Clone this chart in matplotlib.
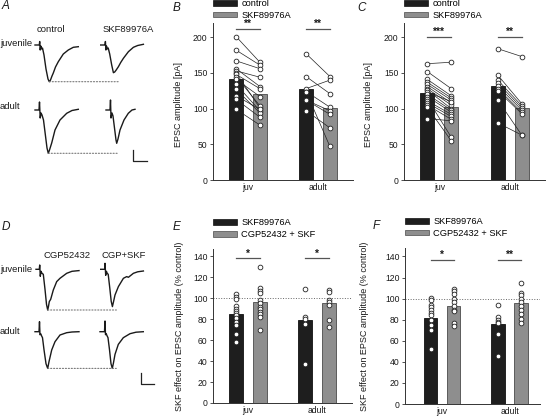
import matplotlib
matplotlib.use('Agg')
import matplotlib.pyplot as plt
from matplotlib.patches import Patch, ConnectionPatch
from matplotlib.lines import Line2D

plt.rcParams['font.family'] = ['Liberation Sans', 'DejaVu Sans']
FS = 6.2

# ---------------- data ----------------
groups = ['juv', 'adult']

# Panel B (EPSC amplitude, pA), paired cells
b_bar_ctrl = [142, 127]
b_bar_skf = [120, 101]
b_juv_ctrl = [201, 182, 167, 156, 153, 150, 148, 145, 141, 134, 127, 118, 113, 99]
b_juv_skf = [165, 161, 156, 131, 144, 101, 128, 104, 117, 97, 94, 99, 88, 77]
b_adult_ctrl = [177, 145, 128, 124, 124, 112, 112, 97]
b_adult_skf = [145, 121, 140, 102, 47, 97, 92, 73]
b_sig = ['**', '**']

# Panel C
c_bar_ctrl = [122, 132]
c_bar_skf = [102, 101]
c_juv_ctrl = [163, 152, 141, 137, 134, 131, 128, 126, 123, 120, 117, 114, 111, 108, 105, 102, 86]
c_juv_skf = [165, 128, 118, 115, 112, 108, 105, 100, 110, 98, 95, 60, 92, 89, 85, 55, 83]
c_adult_ctrl = [184, 147, 140, 136, 132, 128, 125, 112, 80]
c_adult_skf = [173, 107, 104, 101, 98, 95, 93, 63, 63]
c_sig = ['***', '**']

# Panel E (% control)
e_bar_skf = [85, 79]
e_bar_cgp = [96, 95]
e_juv_skf = [104, 101, 99, 93, 90, 88, 86, 84, 81, 77, 74, 66, 58]
e_juv_cgp = [130, 110, 107, 105, 98, 95, 92, 90, 87, 85, 82, 70]
e_adult_skf = [109, 82, 80, 75, 37]
e_adult_cgp = [108, 106, 98, 96, 94, 79, 73]
e_sig = ['*', '*']

# Panel F
f_bar_skf = [82, 76]
f_bar_cgp = [93, 96]
f_juv_skf = [101, 99, 94, 92, 89, 86, 84, 80, 75, 70, 52]
f_juv_cgp = [109, 107, 104, 100, 97, 93, 89, 88, 77, 74]
f_adult_skf = [94, 83, 80, 78, 77, 66, 46]
f_adult_cgp = [115, 105, 103, 100, 97, 93, 89, 85, 81, 77]
f_sig = ['*', '**']

# Example traces (time, current; arbitrary units)
tr_a_juv_ctrl_t = [0, 4.3, 4.7, 5.2, 5.8, 6.5, 7.5, 9, 11, 13, 14.3, 15.5, 17, 18.3, 20.5, 23.3, 28.3, 33.3, 38.3, 43.3]
tr_a_juv_ctrl_i = [0, 0, 3.5, -5, -1, -4, -3, -10, -24, -34, -36.7, -35, -31, -28, -22, -16.7, -9, -5, -2.3, -1.7]
tr_a_juv_skf_t = [0, 4.3, 4.7, 5.2, 5.8, 6.5, 7.5, 9, 11, 12.7, 14, 15.5, 17.7, 20, 22.7, 27.7, 32.7, 37, 42.7]
tr_a_juv_skf_i = [0, 0, 3.5, -5, -1, -4, -3, -9, -20, -27.7, -27, -25, -21.7, -17.5, -13.3, -6.7, -2.3, -0.5, 0.7]
tr_a_ad_ctrl_t = [0, 4, 4.5, 5.2, 6, 7, 8.5, 10, 12, 13.3, 14.5, 16.7, 20, 25, 31.7, 37, 43.3]
tr_a_ad_ctrl_i = [0, 0, 8, -8, -3, -5, -10, -22, -38, -43.3, -40, -33, -20, -10, -3.3, -0.5, 0.7]
tr_a_ad_skf_t = [0, 4, 4.5, 5, 6, 7, 8.5, 10, 10.7, 12, 14, 18, 22.3, 26, 29]
tr_a_ad_skf_i = [0, 0, 10, -8, -3, -6, -18, -30, -33.3, -29, -20, -10, -3.3, 0, 0.7]

tr_d_juv_cgp_t = [0, 3.3, 3.7, 4.3, 5, 6, 7.3, 9, 10.5, 11.7, 12.5, 13.3, 14.7, 17.3, 20.7, 24, 30.7, 36, 43]
tr_d_juv_cgp_i = [0, 0, 4.3, -7, -2, -4, -5, -20, -35, -40.7, -37, -32.3, -30, -20.7, -12.3, -9, -4, -2, -1.3]
tr_d_juv_cs_t = [0, 4, 4.3, 5, 5.7, 6.5, 7.5, 9, 10.5, 11.7, 12.7, 14.3, 17.7, 22.7, 26, 27.7, 32.7, 37, 42.7]
tr_d_juv_cs_i = [0, 0, 6, -6, -2, -4, -5, -18, -32, -37.3, -33, -25.7, -17.3, -9, -7.3, -8, -4, -2.5, -1.7]
tr_d_ad_cgp_t = [0, 4, 4.5, 5, 5.7, 6.5, 7.5, 9, 11, 12.7, 14, 16.7, 20, 25, 31.7, 37, 44]
tr_d_ad_cgp_i = [0, 0, 10, -3, -2, -4, -6, -18, -32, -36.7, -30, -18.3, -10, -3.3, -1, -0.3, 0]
tr_d_ad_cs_t = [0, 4.5, 5, 5.5, 6.2, 7, 8, 9.5, 11, 12.3, 13.5, 15, 18.3, 23.3, 30, 36, 43.3]
tr_d_ad_cs_i = [0, 0, 10.7, -3, -2, -4, -6, -18, -32, -36.7, -31, -22.7, -12.7, -6, -2, -0.5, 0]

# ---------------- figure ----------------
W, H = 546, 417
fig = plt.figure(figsize=(5.46, 4.17), dpi=100)

BLACK = '#1e1e1e'
GREY = '#8e8e8e'
TXT = '#1a1a1a'


def px_axes(l, t, r, b):
    return fig.add_axes([l / W, 1 - b / H, (r - l) / W, (b - t) / H])


def fig_text(x, y, s, **kw):
    fig.text(x / W, 1 - y / H, s, fontsize=kw.pop('fontsize', FS + 0.6), color=TXT, **kw)


def fig_line(xs, ys, **kw):
    fig.add_artist(Line2D([x / W for x in xs], [1 - y / H for y in ys], transform=fig.transFigure, **kw))


def style_axes(ax, ymax, yticks):
    ax.set_xlim(0, 4)
    ax.set_ylim(0, ymax)
    ax.set_yticks(yticks)
    ax.set_xticks([1, 3])
    ax.set_xticklabels(groups)
    for s in ['top', 'right']:
        ax.spines[s].set_visible(False)
    for s in ['left', 'bottom']:
        ax.spines[s].set_linewidth(0.7)
        ax.spines[s].set_color('#333333')
    ax.tick_params(axis='y', length=2.5, width=0.6, pad=1.5, labelsize=FS, colors='#333333', labelcolor=TXT)
    ax.tick_params(axis='x', length=0, pad=2.5, labelsize=FS, labelcolor=TXT)


def bars(ax, v1, v2, off=0.34, w=0.4):
    xs = [1, 3]
    ax.bar([x - off for x in xs], v1, width=w, color=BLACK, edgecolor='#111111', linewidth=0.6, zorder=1)
    ax.bar([x + off for x in xs], v2, width=w, color=GREY, edgecolor='#4a4a4a', linewidth=0.6, zorder=1)


def paired(ax, xc, c, s, off=0.34):
    for a, b in zip(c, s):
        ax.plot([xc - off, xc + off], [a, b], color='#222222', lw=0.5, zorder=2)
    ax.plot([xc - off] * len(c), c, 'o', ms=3.4, mfc='white', mec='#222222', mew=0.6, zorder=3)
    ax.plot([xc + off] * len(s), s, 'o', ms=3.4, mfc='white', mec='#222222', mew=0.6, zorder=3)


def scatter(ax, xc, vals):
    ax.plot([xc] * len(vals), vals, 'o', ms=3.4, mfc='white', mec='#222222', mew=0.6, zorder=3)


def sig(ax, ylev, marks, off=0.34, dy=0.0):
    for xc, m in zip([1, 3], marks):
        ax.plot([xc - off, xc + off], [ylev, ylev], color='#555555', lw=0.9, clip_on=False)
        ax.text(xc, ylev + dy, m, ha='center', va='bottom', fontsize=FS + 1.2,
                fontweight='bold', color=TXT)


def legend(ax, labels, y):
    handles = [Patch(facecolor=BLACK, edgecolor='#111111', lw=0.5),
               Patch(facecolor=GREY, edgecolor='#4a4a4a', lw=0.5)]
    ax.legend(handles, labels, loc='lower left', bbox_to_anchor=(0.0, y), frameon=False,
              fontsize=FS + 0.5, handlelength=2.6, handleheight=0.55, handletextpad=0.45,
              labelspacing=0.3, borderpad=0, borderaxespad=0)


# Panel B
axB = px_axes(213, 23, 353, 180)
style_axes(axB, 220, [0, 50, 100, 150, 200])
bars(axB, b_bar_ctrl, b_bar_skf)
paired(axB, 1, b_juv_ctrl, b_juv_skf)
paired(axB, 3, b_adult_ctrl, b_adult_skf)
sig(axB, 212, b_sig)
axB.set_ylabel('EPSC amplitude [pA]', fontsize=FS + 0.3, color=TXT)
axB.yaxis.set_label_coords(-0.215, 0.48)
legend(axB, ['control', 'SKF89976A'], 1.02)

# Panel C
axC = px_axes(404, 23, 545, 180)
style_axes(axC, 220, [0, 50, 100, 150, 200])
bars(axC, c_bar_ctrl, c_bar_skf)
paired(axC, 1, c_juv_ctrl, c_juv_skf)
paired(axC, 3, c_adult_ctrl, c_adult_skf)
sig(axC, 200, c_sig)
axC.set_ylabel('EPSC amplitude [pA]', fontsize=FS + 0.3, color=TXT)
axC.yaxis.set_label_coords(-0.218, 0.48)
legend(axC, ['control', 'SKF89976A'], 1.02)

# Panel E
axE = px_axes(213, 249, 352, 403)
style_axes(axE, 147, [0, 20, 40, 60, 80, 100, 120, 140])
bars(axE, e_bar_skf, e_bar_cgp)
axE.axhline(100, color='#666666', lw=0.7, ls=':', zorder=0.5)
scatter(axE, 1 - 0.34, e_juv_skf)
scatter(axE, 1 + 0.34, e_juv_cgp)
scatter(axE, 3 - 0.34, e_adult_skf)
scatter(axE, 3 + 0.34, e_adult_cgp)
sig(axE, 138, e_sig)
axE.set_ylabel('SKF effect on EPSC amplitude (% control)', fontsize=FS + 0.3, color=TXT)
axE.yaxis.set_label_coords(-0.211, 0.5)
legend(axE, ['SKF89976A', 'CGP52432 + SKF'], 1.065)

# Panel F
axF = px_axes(405, 248, 540, 404)
style_axes(axF, 148, [0, 20, 40, 60, 80, 100, 120, 140])
axF.set_xlim(-0.1, 3.9)
bars(axF, f_bar_skf, f_bar_cgp)
axF.axhline(100, color='#666666', lw=0.7, ls=':', zorder=0.5)
scatter(axF, 1 - 0.34, f_juv_skf)
scatter(axF, 1 + 0.34, f_juv_cgp)
scatter(axF, 3 - 0.34, f_adult_skf)
scatter(axF, 3 + 0.34, f_adult_cgp)
sig(axF, 137, f_sig)
axF.set_ylabel('SKF effect on EPSC amplitude (% control)', fontsize=FS + 0.3, color=TXT)
axF.yaxis.set_label_coords(-0.27, 0.5)
legend(axF, ['SKF89976A', 'CGP52432 + SKF'], 1.065)


# Traces
def trace(x0, base, t, i):
    ax = px_axes(x0 - 2, base - 12, x0 + 46, base + 46)
    ax.set_xlim(-2, 46)
    ax.set_ylim(-46, 12)
    ax.axis('off')
    ax.plot(t, i, color='#1a1a1a', lw=1.0, solid_joinstyle='round')
    return ax


def dotted(axa, ta, ia, axb, tb):
    k = ia.index(min(ia))
    con = ConnectionPatch(xyA=(ta[k], ia[k]), coordsA=axa.transData,
                          xyB=(tb, ia[k]), coordsB=axb.transData,
                          color='#777777', lw=0.8, ls=':')
    fig.add_artist(con)


def peak_t(t, i):
    return t[i.index(min(i))]


a1 = trace(35, 45, tr_a_juv_ctrl_t, tr_a_juv_ctrl_i)
a2 = trace(100.7, 45, tr_a_juv_skf_t, tr_a_juv_skf_i)
a3 = trace(35, 110, tr_a_ad_ctrl_t, tr_a_ad_ctrl_i)
a4 = trace(106, 110, tr_a_ad_skf_t, tr_a_ad_skf_i)
dotted(a1, tr_a_juv_ctrl_t, tr_a_juv_ctrl_i, a2, peak_t(tr_a_juv_skf_t, tr_a_juv_skf_i) + 5)
dotted(a3, tr_a_ad_ctrl_t, tr_a_ad_ctrl_i, a4, peak_t(tr_a_ad_skf_t, tr_a_ad_skf_i) + 2)

d1 = trace(36, 269.3, tr_d_juv_cgp_t, tr_d_juv_cgp_i)
d2 = trace(100.7, 269.3, tr_d_juv_cs_t, tr_d_juv_cs_i)
d3 = trace(35, 331.7, tr_d_ad_cgp_t, tr_d_ad_cgp_i)
d4 = trace(100, 331.7, tr_d_ad_cs_t, tr_d_ad_cs_i)
dotted(d1, tr_d_juv_cgp_t, tr_d_juv_cgp_i, d2, peak_t(tr_d_juv_cs_t, tr_d_juv_cs_i) + 4)
dotted(d3, tr_d_ad_cgp_t, tr_d_ad_cgp_i, d4, peak_t(tr_d_ad_cs_t, tr_d_ad_cs_i) + 4)

# scale bars
fig_line([133.3, 133.3, 147], [150, 160.5, 160.5], color='#222222', lw=0.9)
fig_line([140.7, 140.7, 154], [373, 383.5, 383.5], color='#222222', lw=0.9)

# trace labels
fig_text(37, 29, 'control', va='center')
fig_text(102.5, 29, 'SKF89976A', va='center')
fig_text(0, 43, 'juvenile', va='center')
fig_text(0, 106.5, 'adult', va='center')
fig_text(44, 255, 'CGP52432', va='center')
fig_text(101.5, 255, 'CGP+SKF', va='center')
fig_text(0, 269, 'juvenile', va='center')
fig_text(0, 331.5, 'adult', va='center')

# panel letters
for x, y, s in [(2, 6, 'A'), (173, 8, 'B'), (357, 8, 'C'),
                (2, 227, 'D'), (173, 227, 'E'), (373, 226, 'F')]:
    fig_text(x, y, s, va='center', fontsize=8.5, style='italic')

fig.savefig('out.png', dpi=100)
